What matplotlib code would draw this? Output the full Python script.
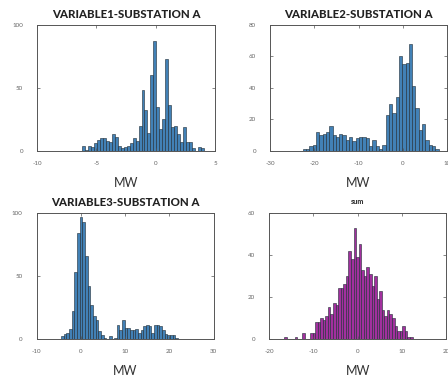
import numpy as np
import matplotlib
matplotlib.use("Agg")
import matplotlib.pyplot as plt

plt.rcParams['axes.unicode_minus'] = False
plt.rcParams['font.family'] = ['Lato', 'DejaVu Sans']

# histogram counts (bin start, bin width, counts)
v1_start, v1_width = -6.2, 0.25
v1_counts = [4, 1, 4, 3, 6, 9, 10, 10, 8, 7, 13, 11, 4, 2, 3, 4, 6, 10, 8, 20,
             48, 32, 14, 60, 87, 35, 17, 25, 73, 36, 19, 20, 13, 7, 19, 7, 7,
             2, 0, 3, 2]

v2_start, v2_width = -23.4, 0.75
v2_counts = [0, 1, 1, 3, 4, 12, 10, 11, 12, 16, 10, 9, 11, 10, 7, 9, 6, 8, 9,
             9, 8, 3, 7, 3, 1, 4, 23, 30, 24, 34, 60, 55, 56, 68, 41, 27, 13,
             17, 7, 4, 3, 1]

v3_start, v3_width = -4.5, 0.6
v3_counts = [2, 4, 5, 8, 22, 53, 84, 97, 93, 66, 42, 27, 18, 15, 6, 3, 1, 0,
             2, 0, 1, 11, 7, 15, 9, 9, 7, 7, 8, 5, 7, 10, 11, 10, 5, 11, 11,
             10, 7, 4, 3, 3, 3, 1]

sum_start, sum_width = -16.6, 0.58
sum_counts = [1, 0, 0, 0, 1, 0, 0, 3, 0, 0, 3, 3, 8, 8, 10, 9, 11, 15, 12, 17,
              16, 24, 24, 26, 30, 42, 38, 53, 39, 45, 33, 30, 34, 31, 25, 30,
              19, 23, 14, 11, 14, 12, 10, 6, 4, 4, 6, 4, 1, 1]

titles = ['VARIABLE1-SUBSTATION A', 'VARIABLE2-SUBSTATION A',
          'VARIABLE3-SUBSTATION A', 'sum']
xlims = [(-10, 5), (-30, 10), (-10, 30), (-20, 20)]
xticks = [[-10, -5, 0, 5], [-30, -20, -10, 0, 10],
          [-10, 0, 10, 20, 30], [-20, -10, 0, 10, 20]]
ylims = [(0, 100), (0, 80), (0, 100), (0, 60)]
yticks = [[0, 50, 100], [0, 20, 40, 60, 80], [0, 50, 100], [0, 20, 40, 60]]

blue = '#4281b6'
magenta = '#a2309e'

fig = plt.figure(figsize=(4.48, 3.8), dpi=100)
rects = [[0.083, 0.603, 0.397, 0.332],
         [0.603, 0.603, 0.395, 0.332],
         [0.082, 0.108, 0.395, 0.332],
         [0.601, 0.108, 0.395, 0.332]]

data = [(v1_start, v1_width, v1_counts, blue),
        (v2_start, v2_width, v2_counts, blue),
        (v3_start, v3_width, v3_counts, blue),
        (sum_start, sum_width, sum_counts, magenta)]

for i, (start, width, counts, col) in enumerate(data):
    ax = fig.add_axes(rects[i])
    lefts = start + width * np.arange(len(counts))
    ax.bar(lefts, counts, width=width, align='edge', color=col,
           edgecolor='#1e2a33', linewidth=0.4)
    ax.set_xlim(*xlims[i])
    ax.set_ylim(*ylims[i])
    ax.set_xticks(xticks[i])
    ax.set_yticks(yticks[i])
    ax.tick_params(direction='in', length=2, width=0.5, top=True, right=True,
                   labelsize=4.5, labelcolor='#666666', color='#555555')
    ax.tick_params(axis='x', pad=7)
    ax.tick_params(axis='y', pad=10)
    for s in ax.spines.values():
        s.set_linewidth(0.7)
        s.set_color('#555555')
    if titles[i] == 'sum':
        ax.set_title(titles[i], fontsize=5.2, fontweight='black', color='#333333', pad=6)
    else:
        ax.set_title(titles[i], fontsize=8.2, fontweight='black', color='#222222', pad=5)
    ax.set_xlabel('MW', fontsize=9, color='#333333', labelpad=8)

fig.savefig('out.png', dpi=100)
